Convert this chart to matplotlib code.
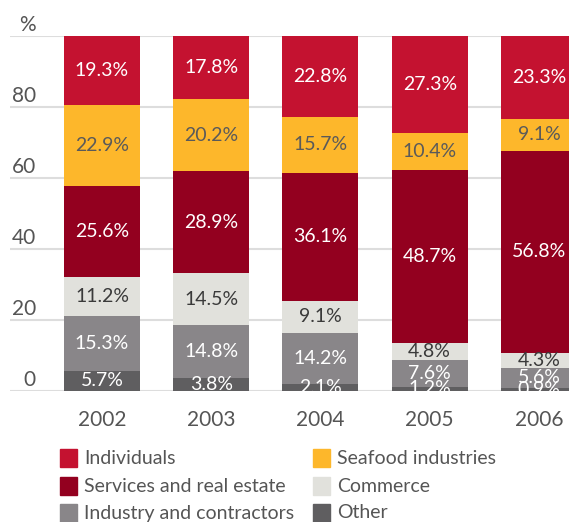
import matplotlib
matplotlib.use("Agg")
import matplotlib.pyplot as plt
import numpy as np

years = ["2002", "2003", "2004", "2005", "2006"]
categories = ["Other", "Industry and contractors", "Commerce",
              "Services and real estate", "Seafood industries", "Individuals"]
other = [5.7, 3.8, 2.1, 1.2, 0.9]
industry = [15.3, 14.8, 14.2, 7.6, 5.6]
commerce = [11.2, 14.5, 9.1, 4.8, 4.3]
services = [25.6, 28.9, 36.1, 48.7, 56.8]
seafood = [22.9, 20.2, 15.7, 10.4, 9.1]
individuals = [19.3, 17.8, 22.8, 27.3, 23.3]
yticks = [0, 20, 40, 60, 80, 100]
ytick_labels = ["0", "20", "40", "60", "80", "%"]

series = [other, industry, commerce, services, seafood, individuals]
colors = ["#5f5e60", "#898689", "#e1e1dc", "#93001f", "#fdb72b", "#c41230"]
label_colors = ["white", "white", "#3a3a3a", "white", "#5a5a5a", "white"]

plt.rcParams["font.family"] = ["Lato", "DejaVu Sans"]
TEXT = "#555555"

W, H = 569, 522
fig = plt.figure(figsize=(W / 100, H / 100), dpi=100)
ax = fig.add_axes([10 / W, 1 - 391 / H, (W - 10) / W, 355 / H])

x = np.arange(len(years))
bottom = np.zeros(len(years))
for vals, col, lc in zip(series, colors, label_colors):
    vals = np.array(vals)
    ax.bar(x, vals, width=0.696, bottom=bottom, color=col, zorder=2)
    for xi, b, v in zip(x, bottom, vals):
        ax.text(xi, b + v / 2, f"{v:.1f}%", ha="center", va="center",
                fontsize=14, color=lc, zorder=3)
    bottom += vals

ax.set_xlim(-0.842, 4.275)
ax.set_ylim(0, 100)
for t in yticks:
    ax.axhline(t, color="#dddddd", lw=1.5, zorder=1)
for s in ax.spines.values():
    s.set_visible(False)
ax.set_xticks([])
ax.set_yticks([])

# y-axis labels sit just above their gridlines
for t, lab in zip(yticks, ytick_labels):
    ax.text(-0.605, t + 1.5, lab, ha="right", va="baseline",
            fontsize=15, color=TEXT)

for xi, yr in zip(x, years):
    ax.text(xi, -8.2, yr, ha="center", va="center", fontsize=15, color=TEXT)

# legend in two columns, row-wise order
order = ["Individuals", "Seafood industries", "Services and real estate",
         "Commerce", "Industry and contractors", "Other"]
cmap = dict(zip(categories, colors))
col_x = [60, 313]
row_y = [458, 486, 513]
for i, name in enumerate(order):
    cx = col_x[i % 2]
    cy = row_y[i // 2]
    fig.patches.append(plt.Rectangle((cx / W, 1 - (cy + 9) / H), 17 / W, 18 / H,
                                     transform=fig.transFigure, color=cmap[name]))
    fig.text((cx + 24) / W, 1 - cy / H, name, ha="left", va="center",
             fontsize=14, color=TEXT)

fig.savefig("out.png", dpi=100)
